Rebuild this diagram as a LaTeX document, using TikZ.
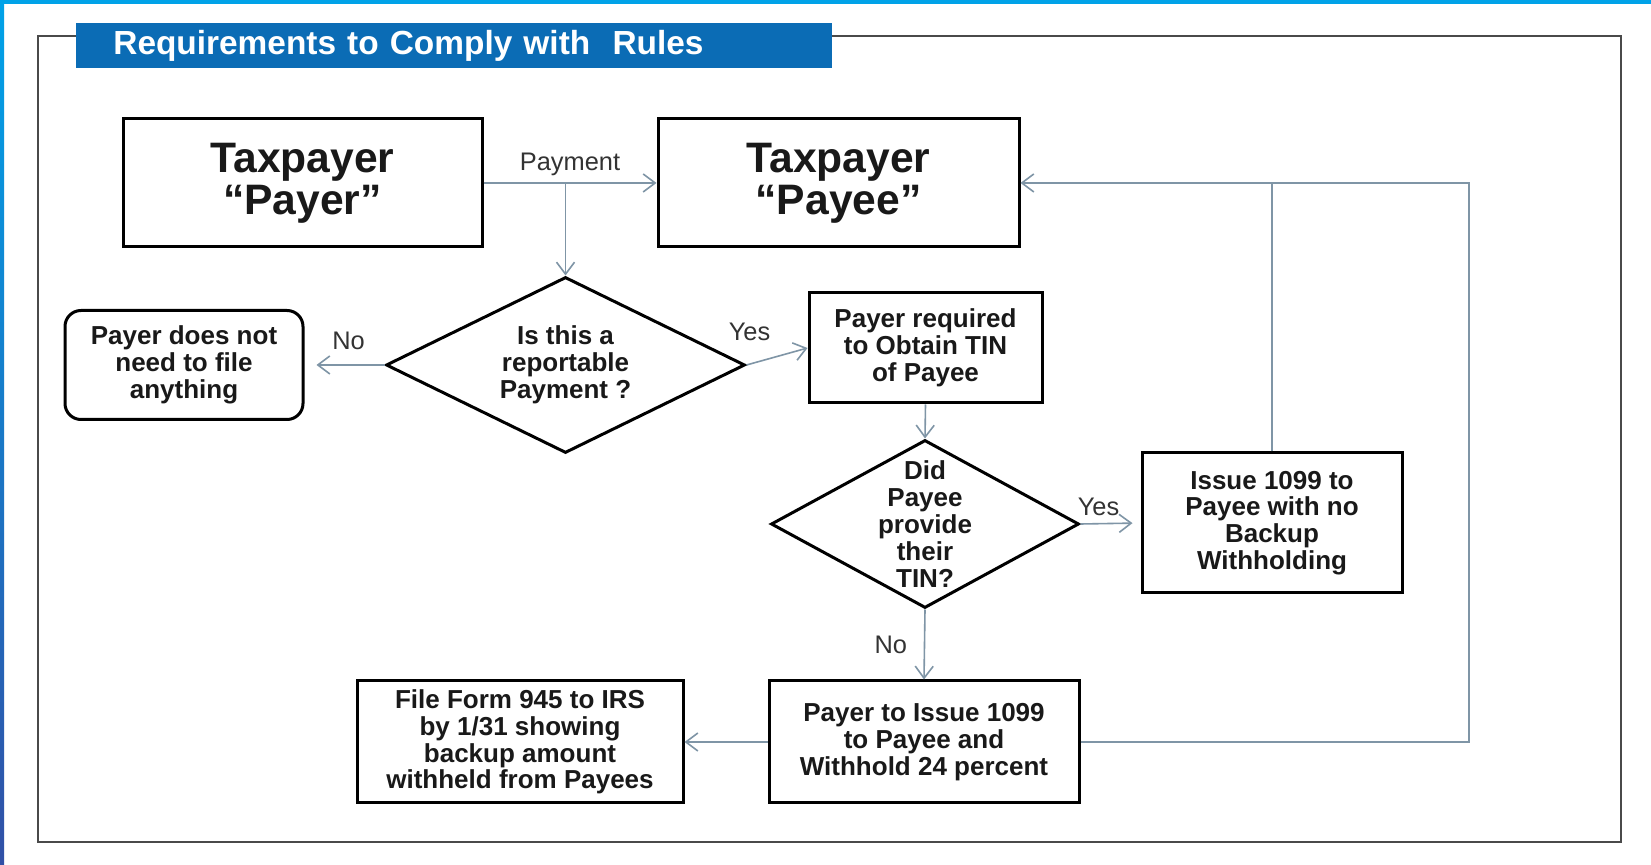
\documentclass[tikz,border=0pt]{standalone}
\usepackage{fontspec}
\setmainfont{Liberation Sans}
\usepackage{xcolor}
\usetikzlibrary{arrows.meta,positioning,shapes.geometric}
\definecolor{barblue}{HTML}{0B6CB5}
\definecolor{edgeblue}{HTML}{00A2E8}
\definecolor{deepblue}{HTML}{3150A6}
\definecolor{linkgray}{HTML}{7F95A6}
\definecolor{framegray}{HTML}{4A4A4A}

\begin{document}
\begin{tikzpicture}[x=0.5pt,y=-0.5pt,>={Straight Barb[length=6pt,width=9pt]}]
\tikzstyle{box}=[rectangle,draw=black,line width=1.5pt,align=center,font=\fontsize{13}{13.4}\selectfont\bfseries,text=black!90]
\tikzstyle{bigbox}=[box,font=\fontsize{21.3}{21}\selectfont\bfseries]
\tikzstyle{decision}=[diamond,draw=black,line width=1.5pt,inner sep=0pt]
\tikzstyle{dtext}=[align=center,font=\fontsize{13}{13.4}\selectfont\bfseries,text=black!90]
\tikzstyle{link}=[->,draw=linkgray,line width=0.8pt]
\tikzstyle{tag}=[font=\fontsize{12.7}{14}\selectfont,text=black!80]
\useasboundingbox (0,0) rectangle (1651,865);
\fill[white] (0,0) rectangle (1651,865);
\fill[edgeblue] (0,0) rectangle (1651,4);
\shade[top color=edgeblue,bottom color=deepblue] (0,0) rectangle (4,865);
\draw[framegray,line width=1pt] (38,36) rectangle (1621,842);
\node[fill=barblue,anchor=north west,minimum height=22pt,text width=341pt,inner xsep=18.5pt,align=left,text=white,font=\fontsize{16.7}{18}\selectfont\bfseries] (title) at (76,23) {Requirements to Comply with\ \ Rules};
\node[bigbox,minimum width=179.5pt,minimum height=64pt] (payer) at (302.5,183) {Taxpayer\\“Payer”};
\node[bigbox,minimum width=180.5pt,minimum height=64pt] (payee) at (838.5,183) {Taxpayer\\“Payee”};
\node[decision,minimum width=179.5pt,minimum height=88pt,label={[dtext]center:Is this a\\reportable\\Payment ?}] (report) at (565.5,365) {};
\node[box,rounded corners=8pt,minimum width=119pt,minimum height=54.5pt] (nofile) at (184,365) {Payer does not\\need to file\\anything};
\node[box,minimum width=116.5pt,minimum height=55pt] (obtain) at (925.5,348) {Payer required\\to Obtain TIN\\of Payee};
\node[decision,minimum width=154pt,minimum height=84pt,label={[dtext]center:Did\\Payee\\provide\\their\\TIN?}] (gettin) at (925,524) {};
\node[box,minimum width=130pt,minimum height=70pt] (nobackup) at (1272,523) {Issue 1099 to\\Payee with no\\Backup\\Withholding};
\node[box,minimum width=155pt,minimum height=61pt] (withhold) at (924,742) {Payer to Issue 1099\\to Payee and\\Withhold 24 percent};
\node[box,minimum width=163pt,minimum height=61pt] (form945) at (520,742) {File Form 945 to IRS\\by 1/31 showing\\backup amount\\withheld from Payees};
\coordinate (loop) at (1469,742);
\draw[link] (payer.east) -- node[tag,above] {Payment} (payee.west);
\draw[link] (payer.east -| report.north) -- (report.north);
\draw[link,shorten >=6pt] (report.west) -- node[tag,above=4pt,pos=0.45] {No} (nofile.east);
\draw[link] (report.east) -- node[tag,pos=0.05,above=8pt] {Yes} (obtain.west);
\draw[link] (obtain.south) -- (gettin.north);
\draw[link,shorten >=4pt] (gettin.east) -- node[tag,pos=0.3,above] {Yes} (nobackup.west);
\draw[link] (gettin.south) -- node[tag,left=5pt] {No} (withhold.north);
\draw[link] (withhold.west) -- (form945.east);
\draw[link] (withhold.east) -- (loop) |- (payee.east);
\draw[link,-] (nobackup.north) -- (nobackup.north |- payee.east);
\end{tikzpicture}
\end{document}
